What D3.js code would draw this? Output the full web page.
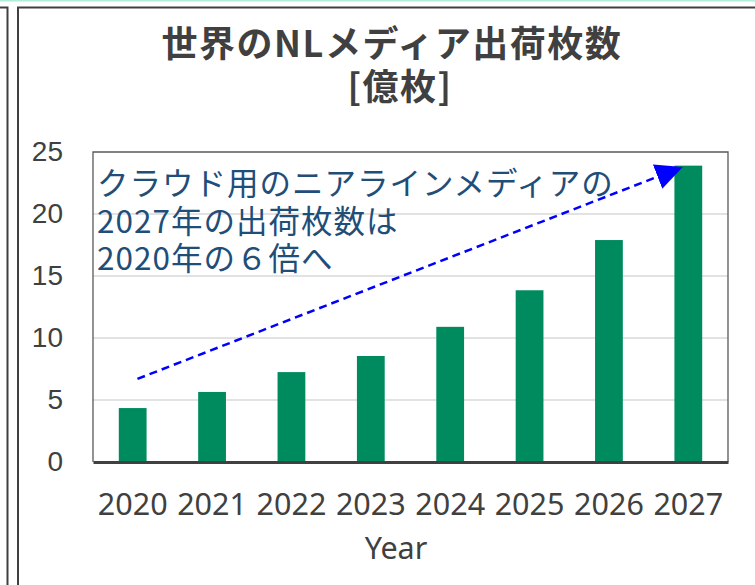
<!DOCTYPE html>
<html>
<head>
<meta charset="utf-8">
<script src="https://cdn.jsdelivr.net/npm/d3@7"></script>
<style>
  body { margin: 0; background: #fff; }
  svg { display: block; }
</style>
</head>
<body>
<div id="chart"></div>
<script>
// chart values
var years = ["2020", "2021", "2022", "2023", "2024", "2025", "2026", "2027"];
var shipments = [4.35, 5.65, 7.25, 8.55, 10.9, 13.85, 17.9, 23.9];
var yTicks = [0, 5, 10, 15, 20, 25];
var titleLines = ["世界のNLメディア出荷枚数", "[億枚]"];
var noteLines = ["クラウド用のニアラインメディアの", "2027年の出荷枚数は", "2020年の６倍へ"];
var xTitle = "Year";
// arrow ends as [year index, value]
var arrowFrom = [0.06, 6.7];
var arrowTo = [6.93, 23.8];

var W = 755, H = 585;
var plot = { left: 93, right: 728, top: 152, bottom: 462 };

var svg = d3.select("#chart").append("svg")
    .attr("width", W)
    .attr("height", H);

// page decoration around the chart
svg.append("rect").attr("x", 0).attr("y", 0).attr("width", W).attr("height", 1.5)
    .attr("fill", "#b3ecd7");
svg.append("path")
    .attr("d", "M0,7.5 H7.5 V" + H)
    .attr("fill", "none").attr("stroke", "#404040").attr("stroke-width", 2);
svg.append("path")
    .attr("d", "M18," + H + " V7.5 H" + (W + 5))
    .attr("fill", "none").attr("stroke", "#404040").attr("stroke-width", 2);

var x = d3.scaleBand()
    .domain(years)
    .range([plot.left, plot.right])
    .paddingInner(0.65)
    .paddingOuter(0.325);

var y = d3.scaleLinear()
    .domain([0, 25])
    .range([plot.bottom, plot.top]);

var step = x.step();
var center = function(i) { return plot.left + step * (i + 0.5); };

// gridlines
svg.append("g")
    .selectAll("line")
    .data(yTicks.filter(function(d) { return d > 0 && d < 25; }))
    .join("line")
    .attr("x1", plot.left).attr("x2", plot.right)
    .attr("y1", function(d) { return y(d); })
    .attr("y2", function(d) { return y(d); })
    .attr("stroke", "#d9d9d9")
    .attr("stroke-width", 1.5);

// plot frame
svg.append("path")
    .attr("d", "M" + plot.left + "," + plot.bottom + " V" + plot.top + " H" + plot.right + " V" + plot.bottom)
    .attr("fill", "none")
    .attr("stroke", "#595959")
    .attr("stroke-width", 1.3);

// bars
svg.append("g")
    .selectAll("rect")
    .data(shipments)
    .join("rect")
    .attr("x", function(d, i) { return x(years[i]); })
    .attr("y", function(d) { return y(d); })
    .attr("width", x.bandwidth())
    .attr("height", function(d) { return y(0) - y(d); })
    .attr("fill", "#008b5e");

// bottom axis
var xAxis = svg.append("g")
    .attr("transform", "translate(0," + plot.bottom + ")")
    .call(d3.axisBottom(x).tickSize(0).tickPadding(31));
xAxis.select(".domain").attr("stroke", "#404040").attr("stroke-width", 3);
xAxis.selectAll("text")
    .attr("fill", "#404040")
    .style("font-family", "'Noto Sans', 'Open Sans', sans-serif")
    .style("font-size", "30.5px");

// left axis labels
var yAxis = svg.append("g")
    .attr("transform", "translate(" + plot.left + ",0)")
    .call(d3.axisLeft(y).tickValues(yTicks).tickSize(0).tickPadding(30));
yAxis.select(".domain").remove();
yAxis.selectAll("text")
    .attr("fill", "#404040")
    .style("font-family", "'Liberation Sans', Arial, sans-serif")
    .style("font-size", "28px");

// axis title
svg.append("text")
    .attr("x", 396).attr("y", 559)
    .attr("text-anchor", "middle")
    .attr("fill", "#404040")
    .style("font-family", "'Noto Sans', 'Open Sans', sans-serif")
    .style("font-size", "30.5px")
    .text(xTitle);

// chart title
svg.append("g")
    .selectAll("text")
    .data(titleLines)
    .join("text")
    .attr("x", function(d, i) { return i === 0 ? 392 : 400; })
    .attr("y", function(d, i) { return 57 + i * 43; })
    .attr("text-anchor", "middle")
    .attr("fill", "#404040")
    .style("font-family", "'Noto Sans CJK JP', sans-serif")
    .style("font-weight", "bold")
    .style("font-size", "36px")
    .style("letter-spacing", "1.5px")
    .text(function(d) { return d; });

// annotation text
svg.append("g")
    .selectAll("text")
    .data(noteLines)
    .join("text")
    .attr("x", 97)
    .attr("y", function(d, i) { return 195 + i * 37.5; })
    .attr("fill", "#1f4e79")
    .style("font-family", "'Noto Sans CJK JP', sans-serif")
    .style("font-size", "31.5px")
    .style("letter-spacing", "1px")
    .text(function(d) { return d; });

// arrow
svg.append("defs").append("marker")
    .attr("id", "head")
    .attr("viewBox", "0 0 27 26")
    .attr("refX", 27).attr("refY", 13)
    .attr("markerWidth", 27).attr("markerHeight", 26)
    .attr("markerUnits", "userSpaceOnUse")
    .attr("orient", "auto")
    .append("path")
    .attr("d", "M0,0 L27,13 L0,26 Z")
    .attr("fill", "#0000ff");

svg.append("line")
    .attr("x1", center(arrowFrom[0])).attr("y1", y(arrowFrom[1]))
    .attr("x2", center(arrowTo[0])).attr("y2", y(arrowTo[1]))
    .attr("stroke", "#0000ff")
    .attr("stroke-width", 2.5)
    .attr("stroke-dasharray", "8,5")
    .attr("marker-end", "url(#head)");
</script>
</body>
</html>
